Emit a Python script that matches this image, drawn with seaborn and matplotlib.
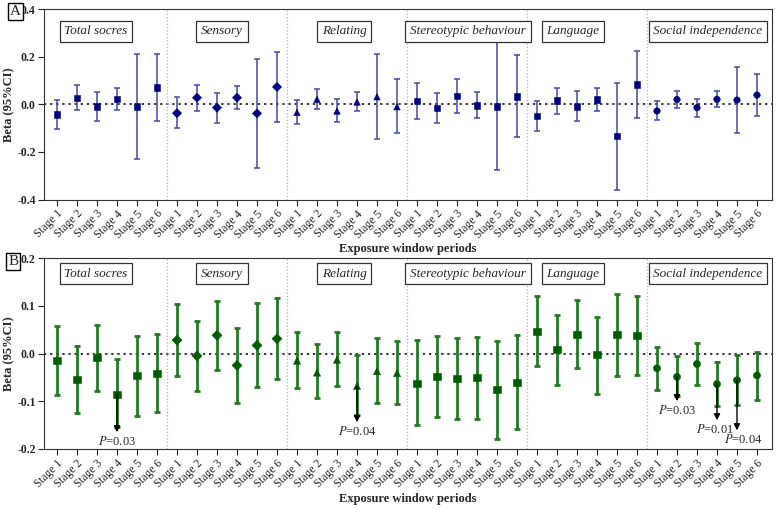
import numpy as np
import pandas as pd
import matplotlib
matplotlib.use("Agg")
import matplotlib.pyplot as plt
import seaborn as sns

# ---- data ----
groups = ["Total socres", "Sensory", "Relating", "Stereotypic behaviour",
          "Language", "Social independence"]
stages = ["Stage 1", "Stage 2", "Stage 3", "Stage 4", "Stage 5", "Stage 6"]
group_markers = {"Total socres": "s", "Sensory": "D", "Relating": "^",
                 "Stereotypic behaviour": "s", "Language": "s",
                 "Social independence": "o"}

# panel A
a_beta = [-0.043, 0.027, -0.010, 0.022, -0.008, 0.070,
          -0.037, 0.028, -0.014, 0.028, -0.038, 0.073,
          -0.034, 0.021, -0.028, 0.010, 0.032, -0.010,
          0.014, -0.015, 0.035, -0.004, -0.008, 0.034,
          -0.049, 0.016, -0.008, 0.020, -0.133, 0.083,
          -0.028, 0.020, -0.014, 0.021, 0.018, 0.039]
a_lo = [-0.104, -0.025, -0.072, -0.025, -0.230, -0.070,
        -0.101, -0.028, -0.079, -0.021, -0.268, -0.074,
        -0.081, -0.020, -0.074, -0.030, -0.145, -0.120,
        -0.063, -0.080, -0.038, -0.059, -0.275, -0.138,
        -0.111, -0.039, -0.069, -0.030, -0.358, -0.059,
        -0.066, -0.014, -0.053, -0.010, -0.121, -0.049]
a_hi = [0.020, 0.080, 0.052, 0.070, 0.213, 0.210,
        0.031, 0.081, 0.049, 0.077, 0.192, 0.218,
        0.020, 0.066, 0.024, 0.053, 0.213, 0.107,
        0.090, 0.049, 0.108, 0.052, 0.268, 0.206,
        0.016, 0.070, 0.056, 0.070, 0.091, 0.226,
        0.014, 0.055, 0.024, 0.055, 0.159, 0.129]

# panel B
b_beta = [-0.015, -0.054, -0.008, -0.085, -0.047, -0.041,
          0.028, -0.005, 0.038, -0.025, 0.017, 0.031,
          -0.015, -0.040, -0.013, -0.068, -0.037, -0.041,
          -0.062, -0.049, -0.053, -0.051, -0.076, -0.060,
          0.046, 0.008, 0.040, -0.003, 0.039, 0.037,
          -0.031, -0.049, -0.022, -0.064, -0.056, -0.046]
b_lo = [-0.088, -0.124, -0.079, -0.155, -0.131, -0.122,
        -0.048, -0.078, -0.035, -0.104, -0.071, -0.053,
        -0.072, -0.094, -0.069, -0.129, -0.104, -0.106,
        -0.149, -0.134, -0.138, -0.138, -0.179, -0.159,
        -0.027, -0.065, -0.031, -0.084, -0.048, -0.046,
        -0.076, -0.090, -0.067, -0.109, -0.107, -0.097]
b_hi = [0.058, 0.016, 0.060, -0.011, 0.037, 0.041,
        0.103, 0.069, 0.110, 0.054, 0.106, 0.117,
        0.045, 0.020, 0.045, -0.003, 0.033, 0.027,
        0.028, 0.037, 0.032, 0.035, 0.027, 0.039,
        0.120, 0.081, 0.113, 0.077, 0.125, 0.120,
        0.014, -0.006, 0.022, -0.017, -0.003, 0.004]

# significant results in panel B: (group, stage, arrow tip, label)
b_sig_group = ["Total socres", "Relating", "Social independence",
               "Social independence", "Social independence"]
b_sig_stage = ["Stage 4", "Stage 4", "Stage 2", "Stage 4", "Stage 5"]
b_sig_tip = [-0.165, -0.144, -0.100, -0.140, -0.161]
b_sig_p = ["0.03", "0.04", "0.03", "0.01", "0.04"]

sns.set_style("ticks")
plt.rcParams["font.family"] = ["Liberation Serif", "DejaVu Serif"]
plt.rcParams["mathtext.fontset"] = "stix"


def make_frame(beta, lo, hi):
    rows = []
    for gi, g in enumerate(groups):
        for si, s in enumerate(stages):
            k = gi * len(stages) + si
            rows.append({"group": g, "stage": s, "pos": k,
                         "beta": beta[k], "lo": lo[k], "hi": hi[k]})
    return pd.DataFrame(rows)


def draw_panel(ax, df, ylim, yticks, mcolor, ecolor, elw, msize, title_y):
    ax.axhline(0, color="black", ls=(0, (1.5, 2.5)), lw=1.1, zorder=1)
    for i in range(1, len(groups)):
        ax.axvline(i * len(stages) - 0.5, color="#b0b0b0", ls=":", lw=0.9, zorder=1)
    ax.errorbar(df["pos"], df["beta"],
                yerr=[df["beta"] - df["lo"], df["hi"] - df["beta"]],
                fmt="none", ecolor=ecolor, elinewidth=elw, capsize=2.2,
                capthick=elw, zorder=2)
    sns.scatterplot(data=df, x="pos", y="beta", style="group",
                    markers=group_markers, color=mcolor, edgecolor=mcolor,
                    s=msize, legend=False, ax=ax, zorder=3)
    ax.set_xlim(-0.65, len(df) - 0.25)
    ax.set_ylim(*ylim)
    ax.set_yticks(yticks)
    ax.set_yticklabels([f"{t:.1f}" for t in yticks], fontweight="bold", fontsize=8.5)
    ax.set_xticks(df["pos"])
    ax.set_xticklabels(df["stage"], rotation=45, ha="right",
                       rotation_mode="anchor", fontsize=8.3)
    ax.set_xlabel("Exposure window periods", fontweight="bold", fontsize=9, labelpad=2)
    ax.set_ylabel("Beta (95%CI)", fontweight="bold", fontsize=9)
    ax.yaxis.set_label_coords(-0.039, 0.5)
    ax.tick_params(axis="both", length=4, width=0.8, pad=2)
    for sp in ax.spines.values():
        sp.set_visible(True)
        sp.set_linewidth(0.8)
        sp.set_color("#333333")
    shift = [-0.55, -0.25, -0.15, 0.05, -0.7, 0.05]
    for gi, g in enumerate(groups):
        xc = gi * len(stages) + 2.5 + shift[gi]
        ax.text(xc, title_y, g, style="italic", fontsize=9.5, ha="center",
                va="center", zorder=5,
                bbox=dict(boxstyle="square,pad=0.35", fc="white", ec="#333333", lw=0.9))


fig = plt.figure(figsize=(7.79, 5.09), dpi=100)
ax_a = fig.add_axes([0.0565, 0.608, 0.9345, 0.374])
ax_b = fig.add_axes([0.0565, 0.118, 0.9345, 0.375])

df_a = make_frame(a_beta, a_lo, a_hi)
df_b = make_frame(b_beta, b_lo, b_hi)

draw_panel(ax_a, df_a, (-0.4, 0.4), [-0.4, -0.2, 0.0, 0.2, 0.4],
           "#000080", "#4747a8", 1.1, 22, 0.307)
draw_panel(ax_b, df_b, (-0.2, 0.2), [-0.2, -0.1, 0.0, 0.1, 0.2],
           "#005c00", "#237a23", 2.0, 26, 0.167)

# arrows and p-values on panel B
text_dx = [0, 0, 0, -0.1, 0.3]
for g, s, tip, p, dx in zip(b_sig_group, b_sig_stage, b_sig_tip, b_sig_p, text_dx):
    row = df_b[(df_b["group"] == g) & (df_b["stage"] == s)].iloc[0]
    ax_b.annotate("", xy=(row["pos"], tip), xytext=(row["pos"], row["beta"]),
                  arrowprops=dict(arrowstyle="-|>", color="black", lw=1.0,
                                  mutation_scale=9, shrinkA=0, shrinkB=0),
                  zorder=4)
    ax_b.text(row["pos"] + dx, tip - 0.006, f"$P$={p}", ha="center", va="top",
              fontsize=9, zorder=5)

# panel letters
for letter, (x, y) in zip(["A", "B"], [(0.0195, 0.977), (0.017, 0.486)]):
    fig.text(x, y, letter, fontsize=11, ha="center", va="center",
             bbox=dict(boxstyle="square,pad=0.12", fc="white", ec="black", lw=1.0))

fig.savefig("out.png", dpi=100)
